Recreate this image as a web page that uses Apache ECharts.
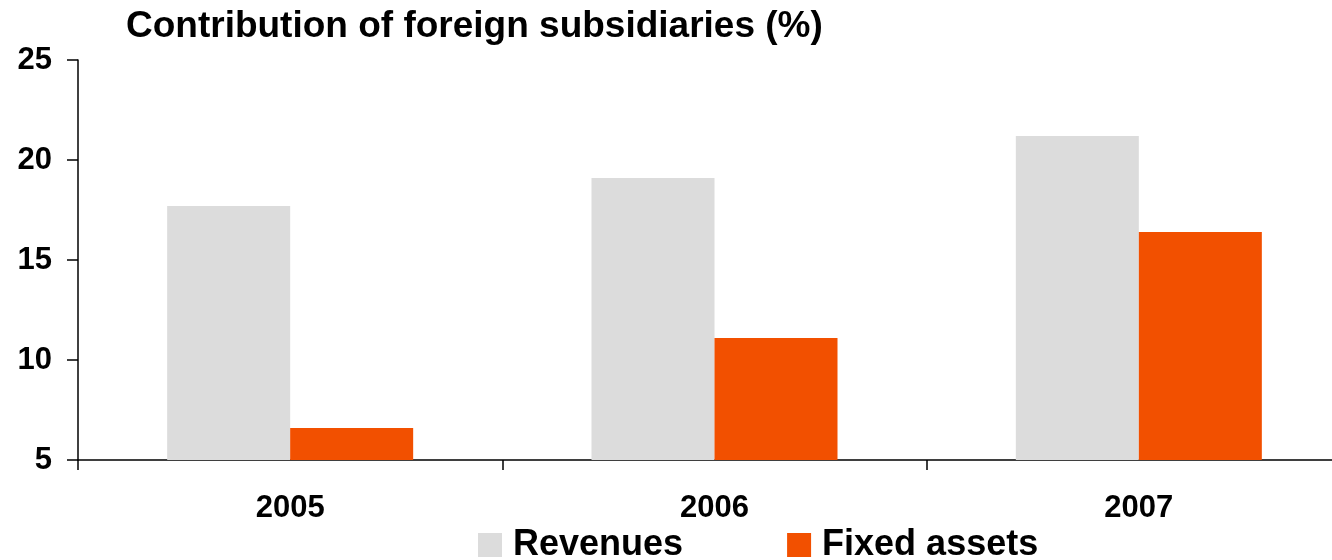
<!DOCTYPE html>
<html>
<head>
<meta charset="utf-8">
<script src="https://cdn.jsdelivr.net/npm/echarts@6/dist/echarts.min.js"></script>
<style>
  html, body { margin: 0; padding: 0; background: #fff; overflow: hidden; width: 1332px; height: 560px; }
  /* the drawing surface is a bit wider than the page so the last category runs off the edge */
  #chart { width: 1360px; height: 560px; }
</style>
</head>
<body>
<div id="chart"></div>
<script>
// Share of foreign subsidiaries in the group totals, per year (%)
const years = ['2005', '2006', '2007'];
const revenues = [17.7, 19.1, 21.2];
const fixedAssets = [6.6, 11.1, 16.4];
const yTicks = { min: 5, max: 25, step: 5 };

const FONT = '"Liberation Sans", Arial, sans-serif';

const chart = echarts.init(document.getElementById('chart'), null, { renderer: 'canvas' });

chart.setOption({
  backgroundColor: '#ffffff',
  animation: false,
  title: {
    text: 'Contribution of foreign subsidiaries (%)',
    left: 121,
    top: 3,
    textStyle: { fontFamily: FONT, fontWeight: 'bold', fontSize: 37, color: '#000' }
  },
  legend: {
    left: 473,
    top: 522,
    itemWidth: 24,
    itemHeight: 24,
    itemGap: 104,
    icon: 'rect',
    textStyle: { fontFamily: FONT, fontWeight: 'bold', fontSize: 36, color: '#000', padding: [0, 0, 0, 6] },
    data: ['Revenues', 'Fixed assets']
  },
  grid: { left: 78, top: 60, height: 400, width: 1273, containLabel: false },
  xAxis: {
    type: 'category',
    data: years,
    axisLine: { lineStyle: { color: '#000', width: 1.5 } },
    axisTick: { show: true, length: 10, lineStyle: { color: '#000', width: 1.5 } },
    axisLabel: { margin: 33, fontFamily: FONT, fontWeight: 'bold', fontSize: 31, color: '#000' },
    splitLine: { show: false }
  },
  yAxis: {
    type: 'value',
    min: yTicks.min,
    max: yTicks.max,
    interval: yTicks.step,
    axisLine: { show: true, lineStyle: { color: '#000', width: 1.5 } },
    axisTick: { show: true, length: 11, lineStyle: { color: '#000', width: 1.5 } },
    axisLabel: { margin: 26, fontFamily: FONT, fontWeight: 'bold', fontSize: 31, color: '#000' },
    splitLine: { show: false }
  },
  series: [
    {
      name: 'Revenues',
      type: 'bar',
      data: revenues,
      barWidth: 123,
      barGap: '0%',
      itemStyle: { color: '#DCDCDC' }
    },
    {
      name: 'Fixed assets',
      type: 'bar',
      data: fixedAssets,
      barWidth: 123,
      barGap: '0%',
      itemStyle: { color: '#F25000' }
    }
  ]
});
</script>
</body>
</html>
